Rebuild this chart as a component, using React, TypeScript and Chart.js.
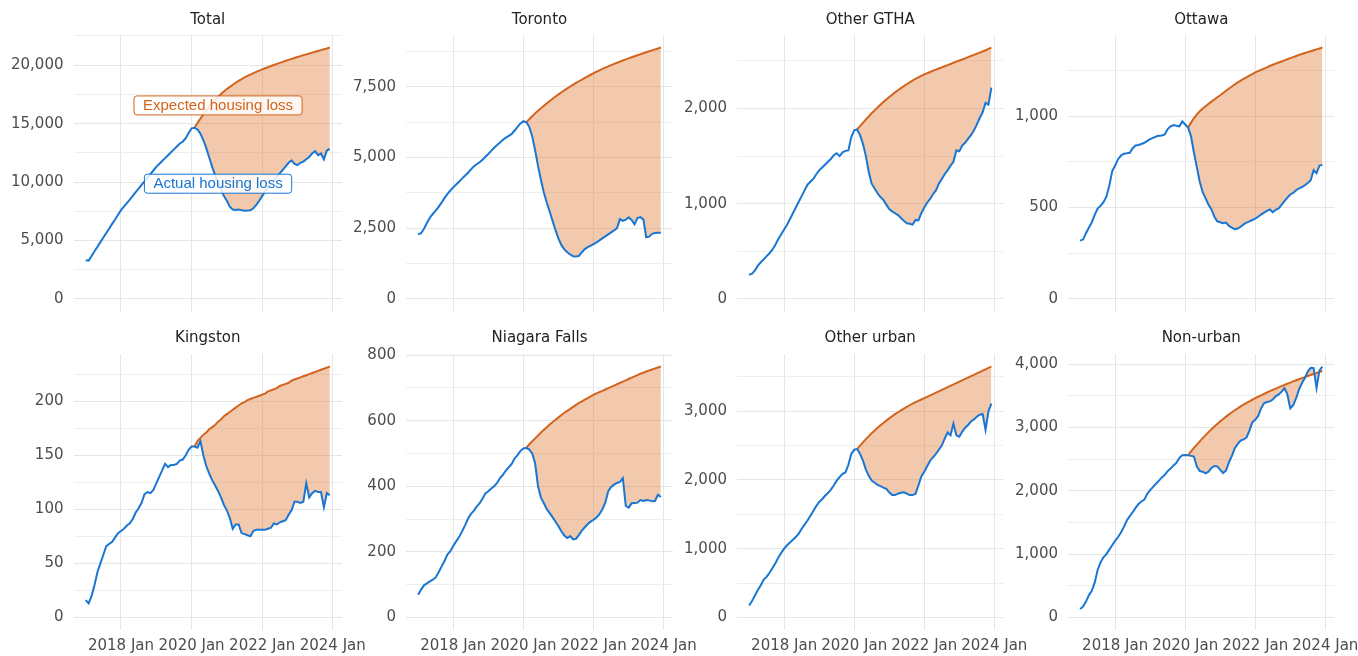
import React, { useEffect, useRef } from "react";
import { Chart, registerables } from "chart.js";

Chart.register(...registerables);
Chart.defaults.font.family = '"DejaVu Sans", "Noto Sans", sans-serif';

// x = month index, 0 = Jan 2017 ... 83 = Dec 2023
const X_TICK_VALUES = [12, 36, 60, 84];
const X_TICK_LABELS = ["2018 Jan", "2020 Jan", "2022 Jan", "2024 Jan"];
const X_MIN = -4.15;
const X_MAX = 87.15;
const EXPECTED_START = 37; // Feb 2020

const PANEL_TITLES = ["Total", "Toronto", "Other GTHA", "Ottawa", "Kingston", "Niagara Falls", "Other urban", "Non-urban"];
const PANEL_STEPS = [5000, 2500, 1000, 500, 50, 200, 1000, 1000];

const totalActual = [
  3300, 3280, 3680, 4080, 4470, 4860, 5250, 5640, 6030, 6420, 6800, 7200,
  7600, 7900, 8200, 8500, 8820, 9130, 9440, 9750, 10060, 10370, 10680, 10990,
  11300, 11550, 11800, 12050, 12300, 12550, 12800, 13050, 13300, 13450, 13750, 14200,
  14600, 14650, 14500, 14150, 13600, 12900, 12100, 11300, 10600, 9950, 9350, 8800,
  8400, 7900, 7650, 7620, 7650, 7600, 7550, 7560, 7580, 7750, 8050, 8400,
  8800, 9200, 9550, 9850, 10150, 10450, 10750, 11050, 11350, 11650, 11850, 11550,
  11450, 11650, 11750, 11950, 12150, 12450, 12650, 12300, 12450, 11950, 12700, 12850,
];
const totalExpected = [
  14650, 15050, 15430, 15790, 16130, 16450, 16750, 17030, 17290, 17530,
  17750, 17960, 18150, 18330, 18500, 18660, 18810, 18950, 19080, 19200,
  19320, 19430, 19540, 19640, 19740, 19840, 19930, 20020, 20110, 20200,
  20290, 20380, 20460, 20540, 20620, 20700, 20780, 20860, 20930, 21000,
  21080, 21150, 21220, 21290, 21360, 21430, 21510,
];

const torontoActual = [
  2285, 2320, 2480, 2680, 2870, 3000, 3120, 3250, 3400, 3560, 3700, 3830,
  3940, 4040, 4140, 4250, 4350, 4450, 4570, 4680, 4760, 4830, 4920, 5020,
  5120, 5230, 5340, 5440, 5530, 5620, 5700, 5760, 5830, 5950, 6080, 6200,
  6280, 6240, 6080, 5750, 5250, 4700, 4200, 3750, 3400, 3080, 2750, 2420,
  2130, 1900, 1750, 1650, 1570, 1510, 1500, 1520, 1650, 1760, 1830, 1880,
  1940, 2000, 2070, 2140, 2210, 2280, 2350, 2420, 2500, 2820, 2760, 2800,
  2880, 2790, 2640, 2860, 2890, 2810, 2180, 2200, 2300, 2330, 2340, 2340,
];
const torontoExpected = [
  6240, 6350, 6455, 6555, 6650, 6740, 6825, 6910, 6990, 7070,
  7150, 7225, 7300, 7370, 7440, 7505, 7570, 7630, 7690, 7750,
  7810, 7865, 7920, 7975, 8025, 8075, 8125, 8170, 8215, 8260,
  8305, 8345, 8385, 8425, 8465, 8500, 8540, 8575, 8610, 8645,
  8680, 8715, 8750, 8780, 8815, 8845, 8880,
];

const otherGthaActual = [
  252, 265, 300, 350, 385, 415, 450, 480, 520, 570, 630, 680,
  730, 780, 840, 900, 960, 1020, 1080, 1140, 1200, 1230, 1260, 1310,
  1350, 1380, 1410, 1440, 1470, 1510, 1530, 1500, 1540, 1555, 1560, 1700,
  1770, 1780, 1720, 1630, 1500, 1330, 1210, 1160, 1110, 1070, 1040, 990,
  945, 920, 900, 880, 850, 820, 795, 790, 780, 830, 825, 900,
  960, 1010, 1050, 1100, 1140, 1210, 1260, 1310, 1350, 1400, 1440, 1560,
  1550, 1610, 1640, 1680, 1720, 1770, 1830, 1900, 1960, 2060, 2040, 2220,
];
const otherGthaExpected = [
  1780, 1815, 1850, 1885, 1918, 1950, 1980, 2010, 2040, 2068,
  2095, 2120, 2145, 2170, 2192, 2214, 2235, 2255, 2275, 2293,
  2310, 2327, 2343, 2358, 2370, 2383, 2396, 2408, 2420, 2432,
  2444, 2456, 2468, 2480, 2492, 2504, 2515, 2527, 2539, 2551,
  2563, 2575, 2587, 2599, 2612, 2626, 2640,
];

const ottawaActual = [
  319, 325, 360, 390, 420, 460, 495, 510, 530, 560, 620, 700,
  730, 765, 785, 795, 797, 800, 825, 840, 843, 848, 855, 865,
  875, 882, 889, 893, 895, 900, 930, 945, 952, 948, 945, 972,
  955, 938, 890, 800, 720, 640, 585, 550, 515, 490, 450, 425,
  420, 414, 418, 400, 390, 382, 385, 395, 408, 418, 425, 432,
  440, 450, 462, 472, 482, 490, 475, 488, 496, 515, 535, 555,
  572, 580, 595, 605, 612, 622, 635, 650, 705, 688, 730, 734,
];
const ottawaExpected = [
  938, 965, 990, 1010, 1028, 1042, 1055, 1068, 1080, 1092,
  1104, 1115, 1127, 1140, 1152, 1163, 1175, 1185, 1195, 1204,
  1213, 1222, 1231, 1240, 1247, 1254, 1261, 1268, 1275, 1282,
  1288, 1294, 1300, 1306, 1312, 1318, 1324, 1330, 1336, 1341,
  1346, 1351, 1356, 1361, 1366, 1371, 1376,
];

const kingstonActual = [
  16, 13, 20, 30, 42, 50, 58, 66, 68, 70, 74, 78,
  80, 82, 85, 87, 91, 97, 101, 106, 114, 116, 115, 118,
  124, 130, 136, 142, 139, 141, 141, 142, 145, 146, 150, 155,
  158, 158, 157, 163, 150, 140, 133, 127, 122, 117, 111, 104,
  99, 92, 82, 86, 86, 78, 77, 76, 75, 80, 81, 81,
  81, 81, 82, 83, 87, 86, 88, 89, 90, 95, 99, 107,
  107, 106, 107, 124, 111, 115, 117, 116, 116, 102, 115, 113,
];
const kingstonExpected = [
  158, 163, 166, 169, 171, 174, 176, 178, 181, 183,
  186, 188, 190, 192, 194, 196, 198, 199, 201, 202,
  203, 204, 205, 206, 207, 209, 210, 211, 212, 214,
  215, 216, 217, 219, 220, 221, 222, 223, 224, 225,
  226, 227, 228, 229, 230, 231, 232,
];

const niagaraActual = [
  69, 85, 98, 104, 110, 115, 122, 138, 155, 172, 192, 202,
  218, 232, 245, 262, 280, 300, 315, 325, 338, 348, 362, 378,
  385, 393, 400, 410, 425, 435, 448, 458, 468, 485, 495, 508,
  515, 517, 512, 500, 470, 400, 365, 348, 330, 318, 305, 292,
  278, 262, 250, 242, 248, 238, 240, 252, 265, 275, 285, 292,
  298, 305, 315, 330, 350, 385, 398, 405, 410, 413, 425, 340,
  335, 348, 349, 350, 358, 355, 358, 357, 354, 355, 374, 367,
];
const niagaraExpected = [
  517, 528, 537, 546, 555, 564, 572, 580, 588, 596,
  603, 610, 617, 624, 630, 636, 642, 648, 654, 659,
  664, 669, 674, 679, 683, 687, 691, 695, 699, 703,
  707, 711, 715, 719, 723, 727, 731, 735, 739, 743,
  746, 750, 753, 756, 759, 762, 765,
];

const otherUrbanActual = [
  175, 240, 320, 400, 470, 550, 590, 650, 720, 790, 870, 940,
  1000, 1050, 1090, 1130, 1170, 1220, 1290, 1350, 1410, 1480, 1550, 1620,
  1680, 1720, 1770, 1810, 1860, 1920, 1990, 2040, 2090, 2110, 2220, 2380,
  2440, 2450, 2380, 2280, 2150, 2060, 1990, 1960, 1930, 1910, 1890, 1870,
  1820, 1780, 1780, 1800, 1815, 1820, 1800, 1780, 1780, 1800, 1920, 2050,
  2120, 2200, 2280, 2330, 2380, 2440, 2500, 2600, 2690, 2650, 2820, 2650,
  2630, 2700, 2760, 2800, 2850, 2880, 2920, 2950, 2960, 2730, 3000, 3110,
];
const otherUrbanExpected = [
  2450, 2500, 2548, 2594, 2638, 2680, 2720, 2758, 2795, 2830,
  2864, 2896, 2927, 2957, 2985, 3012, 3038, 3063, 3087, 3110,
  3131, 3151, 3171, 3190, 3210, 3230, 3250, 3270, 3290, 3310,
  3330, 3350, 3370, 3390, 3410, 3430, 3450, 3470, 3490, 3510,
  3530, 3550, 3570, 3590, 3610, 3630, 3650,
];

const nonUrbanActual = [
  132, 170, 250, 350, 420, 550, 750, 870, 950, 1000, 1070, 1140,
  1210, 1270, 1340, 1430, 1530, 1600, 1660, 1730, 1790, 1830, 1860, 1950,
  2010, 2060, 2110, 2160, 2210, 2250, 2310, 2350, 2400, 2440, 2520, 2560,
  2565, 2560, 2550, 2540, 2380, 2310, 2300, 2275, 2300, 2360, 2390, 2385,
  2330, 2280, 2320, 2450, 2550, 2670, 2740, 2790, 2810, 2840, 2950, 3080,
  3120, 3180, 3300, 3380, 3400, 3410, 3440, 3490, 3520, 3560, 3620, 3520,
  3300, 3350, 3460, 3600, 3700, 3780, 3880, 3940, 3935, 3620, 3900, 3960,
];
const nonUrbanExpected = [
  2560, 2620, 2675, 2728, 2780, 2830, 2878, 2925, 2970, 3013,
  3055, 3095, 3133, 3170, 3205, 3238, 3270, 3300, 3330, 3358,
  3385, 3411, 3436, 3460, 3483, 3506, 3528, 3550, 3571, 3592,
  3612, 3632, 3651, 3670, 3689, 3707, 3725, 3743, 3760, 3777,
  3794, 3811, 3827, 3843, 3859, 3875, 3890,
];

const ACTUAL_SERIES = [totalActual, torontoActual, otherGthaActual, ottawaActual, kingstonActual, niagaraActual, otherUrbanActual, nonUrbanActual];
const EXPECTED_SERIES = [totalExpected, torontoExpected, otherGthaExpected, ottawaExpected, kingstonExpected, niagaraExpected, otherUrbanExpected, nonUrbanExpected];

// annotation labels on the Total panel (data coordinates)
const ANNOTATION_TEXTS = ["Expected housing loss", "Actual housing loss"];
const ANNOTATION_X = [45, 45];
const ANNOTATION_Y = [16560, 9860];

// styles
const BLUE = "#1976d2";
const ORANGE = "#d2641e";
const FILL = "rgba(222,120,50,0.4)";
const GRID = "#e6e6e6";
const GRID_MINOR = "#eeeeee";
const TICK_COLOR = "#4d4d4d";
const TITLE_COLOR = "#222222";

// layout (page pixels)
const PLOT_LEFT = [73.5, 406, 737, 1068];
const PLOT_RIGHT = [342, 673, 1003.5, 1334.5];
const Y_AXIS_W = 70;
const RIGHT_SPACE = 45;
const ROW_TOP = [0, 318];
const ROW_HEIGHT = [320, 338];
const PLOT_TOP = [35, 354];
const PLOT_BOTTOM = [311.5, 630];
const TITLE_MID = [20.5, 338];
const X_AXIS_H = [0, 26];
const TITLE_SIZE = 15;
const TITLE_LH = TITLE_SIZE * 1.2;

const boxLabelPlugin = {
  id: "boxLabels",
  afterDatasetsDraw(chart: any, _args: any, opts: any) {
    const items = (opts && opts.items) || [];
    const ctx = chart.ctx;
    const xs = chart.scales.x;
    const ys = chart.scales.y;
    ctx.save();
    ctx.font = '15px "Liberation Sans", Arial, sans-serif';
    ctx.textAlign = "center";
    ctx.textBaseline = "middle";
    for (const it of items) {
      const cx = xs.getPixelForValue(it.x);
      const cy = ys.getPixelForValue(it.y);
      const tw = ctx.measureText(it.text).width;
      const w = tw + 18;
      const h = 19;
      const x0 = cx - w / 2;
      const y0 = cy - h / 2;
      ctx.beginPath();
      if ((ctx as any).roundRect) (ctx as any).roundRect(x0, y0, w, h, 3);
      else ctx.rect(x0, y0, w, h);
      ctx.fillStyle = "rgba(255,255,255,0.85)";
      ctx.fill();
      ctx.lineWidth = 1;
      ctx.strokeStyle = it.color;
      ctx.stroke();
      ctx.fillStyle = it.color;
      ctx.fillText(it.text, cx, cy + 0.5);
    }
    ctx.restore();
  },
};

function geometry(index: number) {
  const row = Math.floor(index / 4);
  const col = index % 4;
  const left = Math.floor(PLOT_LEFT[col] - Y_AXIS_W);
  const yW = PLOT_LEFT[col] - left;
  const plotW = PLOT_RIGHT[col] - PLOT_LEFT[col];
  const width = Math.ceil(yW + plotW + RIGHT_SPACE);
  const padRight = width - yW - plotW;
  const top = ROW_TOP[row];
  const height = ROW_HEIGHT[row];
  const padTop = TITLE_MID[row] - top - TITLE_LH / 2;
  const titlePadBottom = PLOT_TOP[row] - top - padTop - TITLE_LH;
  const padBottom = top + height - PLOT_BOTTOM[row] - X_AXIS_H[row];
  return { row, col, left, yW, width, padRight, top, height, padTop, titlePadBottom, padBottom };
}

function makeConfig(index: number): any {
  const g = geometry(index);
  const actual = ACTUAL_SERIES[index];
  const expected = EXPECTED_SERIES[index];
  const step = PANEL_STEPS[index];
  const maxV = Math.max(...actual, ...expected);
  const yMin = -0.05 * maxV;
  const yMax = 1.05 * maxV;
  const items =
    index === 0
      ? ANNOTATION_TEXTS.map((t, i) => ({ text: t, x: ANNOTATION_X[i], y: ANNOTATION_Y[i], color: i === 0 ? ORANGE : BLUE }))
      : [];
  return {
    type: "line",
    data: {
      datasets: [
        {
          label: "Actual housing loss",
          data: actual.map((v, i) => ({ x: i, y: v })),
          borderColor: BLUE,
          borderWidth: 2,
          pointRadius: 0,
          tension: 0,
          fill: false,
        },
        {
          label: "Expected housing loss",
          data: expected.map((v, i) => ({ x: EXPECTED_START + i, y: v })),
          borderColor: ORANGE,
          backgroundColor: FILL,
          borderWidth: 2,
          pointRadius: 0,
          tension: 0,
          fill: { target: 0, above: FILL, below: FILL },
        },
      ],
    },
    options: {
      responsive: false,
      animation: false,
      events: [],
      layout: { padding: { left: 0, right: g.padRight, top: g.padTop, bottom: g.padBottom } },
      plugins: {
        legend: { display: false },
        tooltip: { enabled: false },
        filler: { drawTime: "beforeDatasetsDraw" },
        title: {
          display: true,
          text: PANEL_TITLES[index],
          fullSize: false,
          color: TITLE_COLOR,
          font: { size: TITLE_SIZE, weight: "normal", lineHeight: 1.2 },
          padding: { top: 0, bottom: g.titlePadBottom },
        },
        boxLabels: { items },
      },
      scales: {
        x: {
          type: "linear",
          min: X_MIN,
          max: X_MAX,
          bounds: "data",
          border: { display: false },
          grid: { color: GRID, lineWidth: 1, drawTicks: false },
          ticks: {
            display: g.row === 1,
            autoSkip: false,
            maxRotation: 0,
            minRotation: 0,
            padding: 7,
            color: TICK_COLOR,
            font: { size: 15 },
            callback: (v: number) => {
              const k = X_TICK_VALUES.indexOf(v);
              return k >= 0 ? X_TICK_LABELS[k] : "";
            },
          },
          afterBuildTicks: (s: any) => {
            s.ticks = X_TICK_VALUES.map((v) => ({ value: v }));
          },
          afterFit: (s: any) => {
            s.height = X_AXIS_H[g.row];
            s.paddingLeft = 0;
            s.paddingRight = 0;
          },
        },
        y: {
          type: "linear",
          min: yMin,
          max: yMax,
          bounds: "data",
          border: { display: false },
          grid: {
            drawTicks: false,
            lineWidth: 1,
            color: (c: any) => (c.tick && c.tick.value % step === 0 ? GRID : GRID_MINOR),
          },
          ticks: {
            autoSkip: false,
            padding: 10,
            color: TICK_COLOR,
            font: { size: 15 },
            callback: (v: number) => (v % step === 0 ? v.toLocaleString("en-US") : ""),
          },
          afterBuildTicks: (s: any) => {
            const t: any[] = [];
            for (let v = 0; v <= s.max; v += step / 2) t.push({ value: v });
            s.ticks = t;
          },
          afterFit: (s: any) => {
            s.width = g.yW;
            s.paddingTop = 0;
            s.paddingBottom = 0;
          },
        },
      },
    },
    plugins: [boxLabelPlugin],
  };
}

function Panel({ index }: { index: number }) {
  const ref = useRef<HTMLCanvasElement | null>(null);
  const g = geometry(index);
  useEffect(() => {
    if (!ref.current) return;
    const chart = new Chart(ref.current, makeConfig(index));
    return () => chart.destroy();
  }, [index]);
  return (
    <canvas
      ref={ref}
      width={g.width}
      height={g.height}
      style={{ position: "absolute", left: g.left, top: g.top, width: g.width, height: g.height }}
    />
  );
}

export default function App() {
  return (
    <div
      style={{
        position: "fixed",
        left: 0,
        top: 0,
        width: 1358,
        height: 656,
        overflow: "hidden",
        background: "#ffffff",
      }}
    >
      {PANEL_TITLES.map((_, i) => (
        <Panel key={i} index={i} />
      ))}
    </div>
  );
}
